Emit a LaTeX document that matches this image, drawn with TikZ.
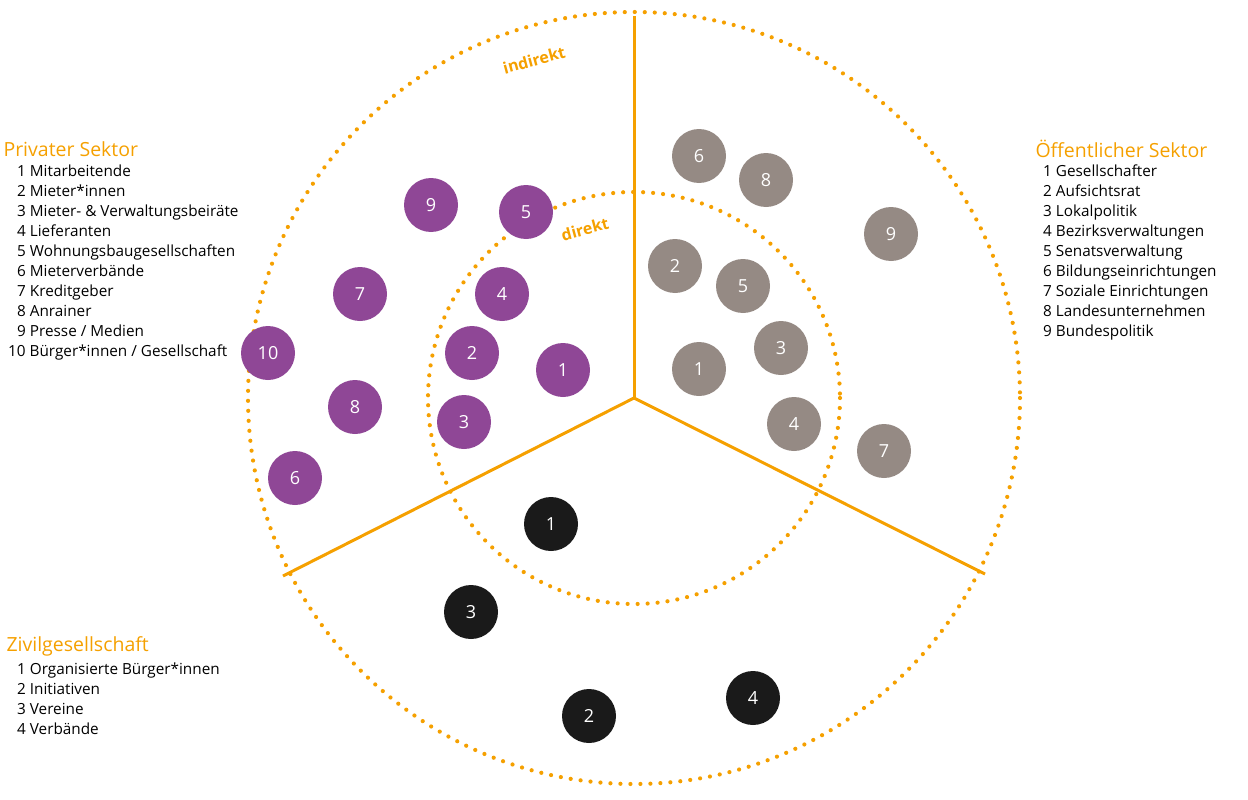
\documentclass[tikz,border=0pt]{standalone}
\usepackage{fontspec}
\setmainfont{Open Sans}
\begin{document}
\begin{tikzpicture}[x=1pt,y=-1pt,
  orn/.style={draw=orng,line width=3pt},
  dotc/.style={draw=orng,line width=4.2pt,dash pattern=on 0pt off 10pt,line cap=round},
  bub/.style={circle,minimum size=54pt,inner sep=0pt,text=white,font=\fontsize{18}{20}\selectfont},
  pu/.style={bub,fill=purp}, gr/.style={bub,fill=gry}, bk/.style={bub,fill=blk},
  head/.style={anchor=west,text=orng,font=\fontsize{19.5}{22}\selectfont},
  lst/.style={anchor=north west,align=left,font=\fontsize{15.3}{20}\selectfont,inner sep=0pt}]
\definecolor{orng}{HTML}{F5A000}
\definecolor{purp}{HTML}{8F4796}
\definecolor{gry}{HTML}{958A84}
\definecolor{blk}{HTML}{1A1A1A}
\useasboundingbox (0,0) rectangle (1248,800);
\coordinate (c) at (634,398);
\draw[dotc] (c) circle (386);
\draw[dotc] (c) circle (206);
\coordinate (t) at (634,16);
\coordinate (l) at (283,576);
\coordinate (r) at (985,574);
\draw[orn] (c) -- (t);
\draw[orn] (c) -- (l);
\draw[orn] (c) -- (r);
\node[text=orng,font=\bfseries\fontsize{16}{18}\selectfont,rotate=15,inner sep=0pt] (ind) at (534,60) {indirekt};
\node[text=orng,font=\bfseries\fontsize{16}{18}\selectfont,rotate=15,inner sep=0pt] (dir) at (585,229) {direkt};
% purple
\node[pu] (p1) at (563,370) {1};
\node[pu] (p2) at (472,353) {2};
\node[pu] (p3) at (464,422) {3};
\node[pu] (p4) at (502,294) {4};
\node[pu] (p5) at (526,212) {5};
\node[pu] (p6) at (295,478) {6};
\node[pu] (p7) at (360,294) {7};
\node[pu] (p8) at (355,407) {8};
\node[pu] (p9) at (431,205) {9};
\node[pu] (p10) at (268,353) {10};
% grey
\node[gr] (g1) at (699,369) {1};
\node[gr] (g2) at (675,266) {2};
\node[gr] (g3) at (781,348) {3};
\node[gr] (g4) at (794,424) {4};
\node[gr] (g5) at (743,286) {5};
\node[gr] (g6) at (699,156) {6};
\node[gr] (g7) at (884,451) {7};
\node[gr] (g8) at (766,180) {8};
\node[gr] (g9) at (891,234) {9};
% black
\node[bk] (b1) at (551,524) {1};
\node[bk] (b2) at (589,716) {2};
\node[bk] (b3) at (471,612) {3};
\node[bk] (b4) at (753,698) {4};
% legends
\node[head] (h1) at (0,149) {Privater Sektor};
\node[lst] (l1) at (17,165) {1 Mitarbeitende\\2 Mieter*innen\\3 Mieter- \& Verwaltungsbeiräte\\4 Lieferanten\\5 Wohnungsbaugesellschaften\\6 Mieterverbände\\7 Kreditgeber\\8 Anrainer\\9 Presse / Medien};
\node[lst] (l1b) at (8,345) {10 Bürger*innen / Gesellschaft};
\node[head] (h2) at (1032,149) {Öffentlicher Sektor};
\node[lst] (l2) at (1043,165) {1 Gesellschafter\\2 Aufsichtsrat\\3 Lokalpolitik\\4 Bezirksverwaltungen\\5 Senatsverwaltung\\6 Bildungseinrichtungen\\7 Soziale Einrichtungen\\8 Landesunternehmen\\9 Bundespolitik};
\node[head] (h3) at (3,646) {Zivilgesellschaft};
\node[lst] (l3) at (17,663) {1 Organisierte Bürger*innen\\2 Initiativen\\3 Vereine\\4 Verbände};
\end{tikzpicture}
\end{document}
